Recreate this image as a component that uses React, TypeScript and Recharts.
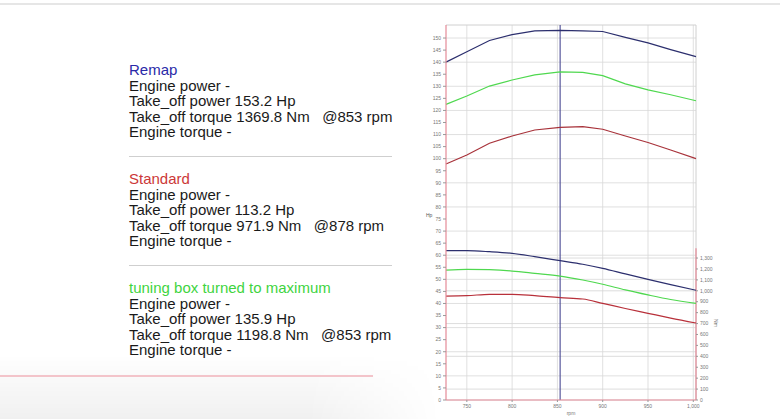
import React from 'react';
import {
  ComposedChart,
  Line,
  XAxis,
  YAxis,
  CartesianGrid,
  ReferenceLine,
} from 'recharts';

// ---- data ----
const rpm = [727, 750, 775, 800, 825, 853, 878, 900, 925, 950, 975, 1003];

const remapPower = [140.0, 144.3, 149.0, 151.4, 153.0, 153.2, 153.0, 152.7, 150.3, 148.0, 145.2, 142.3];
const standardPower = [97.8, 101.5, 106.4, 109.4, 111.9, 113.0, 113.3, 112.2, 109.4, 106.7, 103.6, 100.0];
const boxPower = [122.5, 126.0, 130.1, 132.6, 134.7, 136.0, 135.8, 134.4, 131.0, 128.5, 126.5, 124.0];

const remapTorque = [1367, 1367, 1358, 1343, 1313, 1276, 1243, 1206, 1155, 1105, 1056, 1005];
const boxTorque = [1190, 1197, 1193, 1181, 1160, 1135, 1099, 1060, 1008, 962, 920, 885];
const standardTorque = [952, 955, 968, 968, 955, 937, 925, 885, 838, 794, 750, 705];

const hpTicks = [0, 5, 10, 15, 20, 25, 30, 35, 40, 45, 50, 55, 60, 65, 70, 75, 80, 85, 90, 95, 100, 105, 110, 115, 120, 125, 130, 135, 140, 145, 150];
const nmTicks = [0, 100, 200, 300, 400, 500, 600, 700, 800, 900, 1000, 1100, 1200, 1300];
const rpmTicks = [750, 800, 850, 900, 950, 1000];
const cursorRpm = 853;

const blocks = [
  {
    title: 'Remap',
    color: '#2a2aa8',
    lines: ['Engine power -', 'Take_off power 153.2 Hp', 'Take_off torque 1369.8 Nm   @853 rpm', 'Engine torque -'],
  },
  {
    title: 'Standard',
    color: '#cc3838',
    lines: ['Engine power -', 'Take_off power 113.2 Hp', 'Take_off torque 971.9 Nm   @878 rpm', 'Engine torque -'],
  },
  {
    title: 'tuning box turned to maximum',
    color: '#3fd43f',
    lines: ['Engine power -', 'Take_off power 135.9 Hp', 'Take_off torque 1198.8 Nm   @853 rpm', 'Engine torque -'],
  },
];

const data = rpm.map((r, i) => ({
  rpm: r,
  remapP: remapPower[i],
  stdP: standardPower[i],
  boxP: boxPower[i],
  remapT: remapTorque[i],
  boxT: boxTorque[i],
  stdT: standardTorque[i],
}));

const HP_MAX = 155.4;
const NM_MAX = 3434;
const X_MIN = 727;
const X_MAX = 1003;

const axisRed = '#e48a98';
const tickStyle = { fontSize: 5, fill: '#777', fontFamily: 'Liberation Sans, Arial, sans-serif' };
const fmt = (v: number) => v.toLocaleString('en-US');

export default function App() {
  const blockTops = [62, 171, 280];
  return (
    <div
      style={{
        position: 'fixed',
        left: 0,
        top: 0,
        width: 780,
        height: 419,
        background: '#fff',
        overflow: 'hidden',
        fontFamily: '"Liberation Sans", Arial, sans-serif',
      }}
    >
      <div style={{ position: 'absolute', left: 0, top: 3, width: 780, height: 2, background: '#e6e6e6' }} />
      <div
        style={{
          position: 'absolute',
          left: 0,
          top: 355,
          width: 440,
          height: 64,
          background: 'linear-gradient(to bottom, rgba(0,0,0,0), rgba(0,0,0,0.06))',
          WebkitMaskImage: 'linear-gradient(to right, #000 70%, transparent 100%)',
          maskImage: 'linear-gradient(to right, #000 70%, transparent 100%)',
        }}
      />
      {blocks.map((b, bi) => (
        <div
          key={b.title}
          style={{
            position: 'absolute',
            left: 129,
            top: blockTops[bi],
            fontSize: 15,
            lineHeight: '15.6px',
            color: '#1a1a1a',
            whiteSpace: 'pre',
          }}
        >
          <div style={{ color: b.color }}>{b.title}</div>
          {b.lines.map((l) => (
            <div key={l}>{l}</div>
          ))}
        </div>
      ))}
      <div style={{ position: 'absolute', left: 129, top: 156, width: 263, height: 1, background: '#cfcfcf' }} />
      <div style={{ position: 'absolute', left: 129, top: 265, width: 263, height: 1, background: '#cfcfcf' }} />
      <div style={{ position: 'absolute', left: 0, top: 375, width: 373, height: 2, background: '#f3c4ca' }} />

      <div style={{ position: 'absolute', left: 410, top: 0 }}>
        <ComposedChart
          width={340}
          height={419}
          data={data}
          margin={{ top: 25, left: 6, right: 14, bottom: 4 }}
        >
          <CartesianGrid
            yAxisId="hp"
            stroke="#d8d8d8"
            strokeWidth={0.8}
            horizontalValues={hpTicks}
            verticalValues={rpmTicks}
          />
          <CartesianGrid
            yAxisId="nm"
            stroke="#d4d4d4"
            strokeWidth={0.8}
            vertical={false}
            horizontalValues={nmTicks}
          />
          <XAxis
            dataKey="rpm"
            type="number"
            domain={[X_MIN, X_MAX]}
            ticks={rpmTicks}
            tickFormatter={fmt}
            tick={tickStyle}
            tickSize={2}
            height={15}
            stroke={axisRed}
            axisLine={{ stroke: axisRed, strokeWidth: 1.2 }}
            tickLine={{ stroke: '#999' }}
            label={{ value: 'rpm', position: 'insideBottom', offset: 0, fontSize: 5, fill: '#777' }}
          />
          <YAxis
            yAxisId="hp"
            type="number"
            domain={[0, HP_MAX]}
            ticks={hpTicks}
            tick={tickStyle}
            tickSize={3}
            width={30}
            axisLine={{ stroke: axisRed, strokeWidth: 1.2 }}
            tickLine={{ stroke: '#999' }}
            allowDataOverflow
            label={{ value: 'Hp', position: 'insideLeft', offset: 10, fontSize: 5, fill: '#555', dy: 3 }}
          />
          <YAxis
            yAxisId="nm"
            orientation="right"
            type="number"
            domain={[0, NM_MAX]}
            ticks={nmTicks}
            tickFormatter={fmt}
            tick={tickStyle}
            tickSize={2}
            width={40}
            axisLine={false}
            tickLine={{ stroke: '#999' }}
            allowDataOverflow
          />
          <ReferenceLine yAxisId="hp" y={HP_MAX} stroke="#d0d0d0" strokeWidth={1} />
          <ReferenceLine yAxisId="hp" x={X_MAX} stroke="#d0d0d0" strokeWidth={1} />
          <ReferenceLine
            yAxisId="nm"
            segment={[
              { x: X_MAX, y: 0 },
              { x: X_MAX, y: 1390 },
            ]}
            stroke={axisRed}
            strokeWidth={1.2}
          />
          <ReferenceLine yAxisId="hp" x={cursorRpm} stroke="#4a4a94" strokeWidth={1.1} />

          <Line yAxisId="hp" dataKey="remapP" type="linear" stroke="#2c2f6e" strokeWidth={1.2} dot={false} isAnimationActive={false} />
          <Line yAxisId="hp" dataKey="boxP" type="linear" stroke="#4fd84f" strokeWidth={1.2} dot={false} isAnimationActive={false} />
          <Line yAxisId="hp" dataKey="stdP" type="linear" stroke="#a8323a" strokeWidth={1.2} dot={false} isAnimationActive={false} />
          <Line yAxisId="nm" dataKey="remapT" type="monotone" stroke="#2c2f6e" strokeWidth={1.2} dot={false} isAnimationActive={false} />
          <Line yAxisId="nm" dataKey="boxT" type="monotone" stroke="#4fd84f" strokeWidth={1.2} dot={false} isAnimationActive={false} />
          <Line yAxisId="nm" dataKey="stdT" type="monotone" stroke="#b8303a" strokeWidth={1.2} dot={false} isAnimationActive={false} />
        </ComposedChart>
      </div>
      <div
        style={{
          position: 'absolute',
          left: 712,
          top: 320,
          fontSize: 5,
          color: '#666',
          transform: 'rotate(90deg)',
        }}
      >
        Nm
      </div>
    </div>
  );
}
